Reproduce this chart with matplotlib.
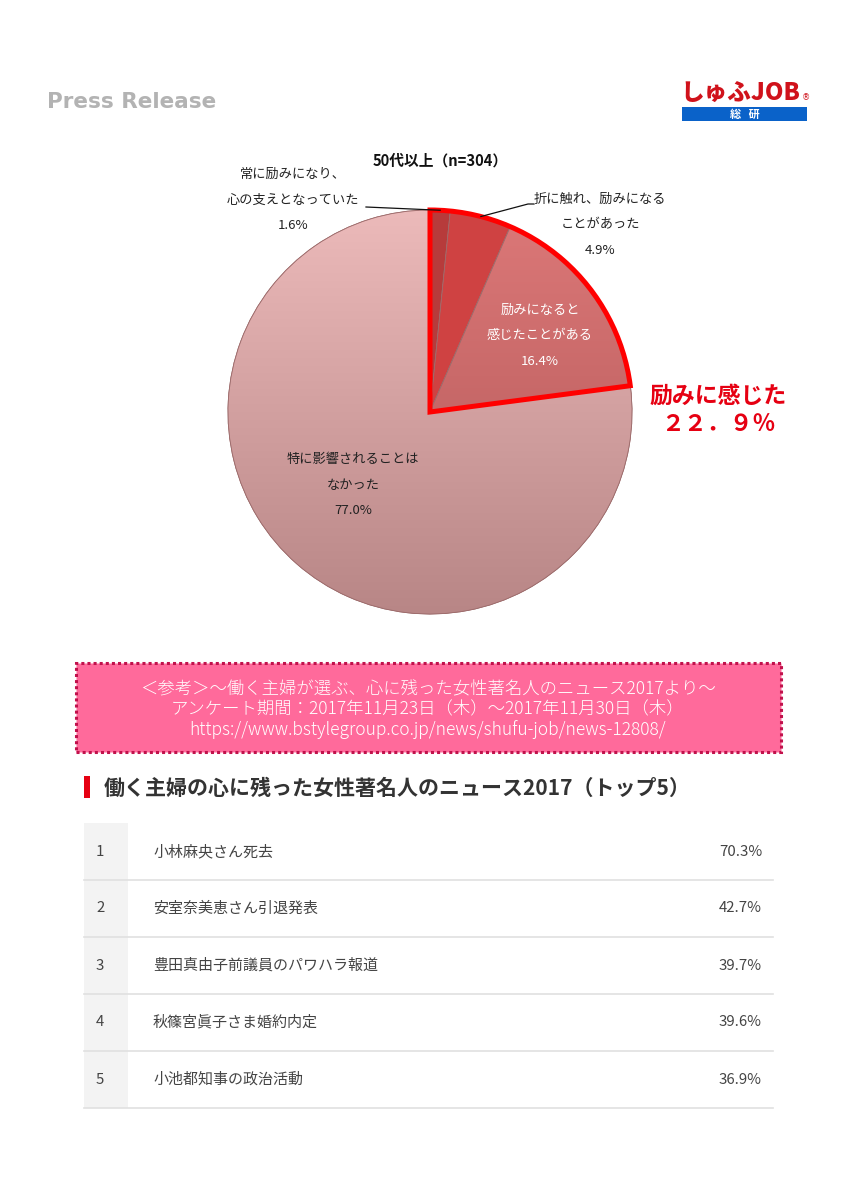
import numpy as np
import matplotlib
matplotlib.use("Agg")
import matplotlib.pyplot as plt
from matplotlib.patches import Wedge, Rectangle
from matplotlib.colors import LinearSegmentedColormap

plt.rcParams['font.family'] = ['Noto Sans CJK JP', 'DejaVu Sans']

# ---------------- data ----------------
pie_title = "50代以上（n=304）"
pie_labels = ["常に励みになり、\n心の支えとなっていた",
              "折に触れ、励みになる\nことがあった",
              "励みになると\n感じたことがある",
              "特に影響されることは\nなかった"]
pie_values = [1.6, 4.9, 16.4, 77.0]
highlight_text = "励みに感じた\n２２．９％"

ref_lines = ["＜参考＞～働く主婦が選ぶ、心に残った女性著名人のニュース2017より～",
             "アンケート期間：2017年11月23日（木）～2017年11月30日（木）",
             "https://www.bstylegroup.co.jp/news/shufu-job/news-12808/"]
table_title = "働く主婦の心に残った女性著名人のニュース2017（トップ5）"
ranks = ["1", "2", "3", "4", "5"]
news = ["小林麻央さん死去", "安室奈美恵さん引退発表", "豊田真由子前議員のパワハラ報道",
        "秋篠宮眞子さま婚約内定", "小池都知事の政治活動"]
news_pct = [70.3, 42.7, 39.7, 39.6, 36.9]

# ---------------- figure ----------------
W, H = 851, 1199
fig = plt.figure(figsize=(W / 100, H / 100), dpi=100)
ax = fig.add_axes([0, 0, 1, 1])
ax.set_xlim(0, W)
ax.set_ylim(0, H)
ax.axis('off')


def Y(py):
    return H - py


# header
ax.text(47, Y(102), "Press Release", fontsize=15.5, fontweight='bold', color='#b3b3b3',
        family=['DejaVu Sans'], va='center', ha='left')
ax.text(680, Y(94), "しゅふJOB", fontsize=17, fontweight='black', color='#d0121b',
        va='center', ha='left')
ax.text(802, Y(98), "®", fontsize=6, color='#d0121b', va='center', ha='left',
        family=['DejaVu Sans'])
ax.add_patch(Rectangle((682, Y(121)), 125, 14, facecolor='#0a62c9', edgecolor='none'))
ax.text(745, Y(114), "総   研", fontsize=8, color='white', fontweight='bold',
        va='center', ha='center')

# ---------------- pie ----------------
cx, cy, R = 430, Y(412), 202
wedges, _ = ax.pie(pie_values, startangle=90, counterclock=False, radius=R,
                   center=(cx, cy), normalize=True,
                   colors=['#b73b3b', '#cf4242', '#d46e6e', '#dcaaaa'],
                   wedgeprops=dict(edgecolor='#9c6b6b', linewidth=0.6))

grads = [None, None, ('#dc7878', '#b05656'), ('#ecbaba', '#b88686')]
for w, g in zip(wedges, grads):
    if g is None:
        continue
    cmap = LinearSegmentedColormap.from_list('g', [g[0], g[1]])
    grad = np.linspace(0, 1, 256).reshape(-1, 1)
    im = ax.imshow(grad, cmap=cmap, extent=(cx - R, cx + R, cy - R, cy + R),
                   origin='upper', aspect='auto', zorder=w.get_zorder() + 0.01)
    im.set_clip_path(w)
    outline = Wedge((cx, cy), R, w.theta1, w.theta2, facecolor='none',
                    edgecolor='#9c6b6b', linewidth=0.6, zorder=w.get_zorder() + 0.02)
    ax.add_patch(outline)

# red outline around the "encouraged" group (first three slices)
total = sum(pie_values)
grp = sum(pie_values[:3]) / total * 360
ax.add_patch(Wedge((cx, cy), R, 90 - grp, 90, facecolor='none', edgecolor='#ff0000',
                   linewidth=3.6, joinstyle='miter', zorder=10))

ax.text(440, Y(161), pie_title, fontsize=10.6, fontweight='bold', color='#111111',
        ha='center', va='center')

lab_fs = 9.5
ls = 2.25
# outside labels
ax.text(293, Y(200), pie_labels[0] + "\n" + f"{pie_values[0]:.1f}%", fontsize=lab_fs,
        ha='center', va='center', color='#222222', linespacing=ls)
ax.text(600, Y(225), pie_labels[1] + "\n" + f"{pie_values[1]:.1f}%", fontsize=lab_fs,
        ha='center', va='center', color='#222222', linespacing=ls)
# inside labels
ax.text(540, Y(336), pie_labels[2] + "\n" + f"{pie_values[2]:.1f}%", fontsize=lab_fs,
        ha='center', va='center', color='white', linespacing=ls, zorder=12)
ax.text(353, Y(485), pie_labels[3] + "\n" + f"{pie_values[3]:.1f}%", fontsize=lab_fs,
        ha='center', va='center', color='#222222', linespacing=ls, zorder=12)

# leader lines to the mid-angle of the two small slices
cum = 0.0
mids = []
for v in pie_values:
    mids.append(np.deg2rad(90 - (cum + v / 2) / total * 360))
    cum += v
p0 = (cx + R * np.cos(mids[0]), cy + R * np.sin(mids[0]))
ax.plot([366, p0[0]], [Y(207), p0[1]], color='#111111', lw=0.9, zorder=11)
p1 = (cx + R * np.cos(mids[1]), cy + R * np.sin(mids[1]))
ax.plot([534, 528, p1[0]], [Y(204), Y(204), p1[1]], color='#111111', lw=0.9, zorder=11)

ax.text(718, Y(410), highlight_text, fontsize=16.5, fontweight='bold', color='#e60012',
        ha='center', va='center', multialignment='center', linespacing=1.3)

# ---------------- reference box ----------------
ax.add_patch(Rectangle((76, Y(752)), 705, 89, facecolor='#ff6a9b', edgecolor='#c2114c',
                       linewidth=2.2, linestyle=(0, (1, 1))))
for i, line in enumerate(ref_lines):
    ax.text(428, Y(689 + i * 20.5), line, fontsize=12.5, color='white', ha='center',
            va='center', fontweight='light')

# ---------------- table ----------------
ax.add_patch(Rectangle((84, Y(798)), 6, 22, facecolor='#e60012', edgecolor='none'))
ax.text(104, Y(788), table_title, fontsize=15.1, fontweight='bold', color='#333333',
        ha='left', va='center')

top, rh = 823, 57
ax.add_patch(Rectangle((84, Y(top + rh * len(ranks))), 44, rh * len(ranks),
                       facecolor='#f3f3f3', edgecolor='none'))
for i, (r, n, p) in enumerate(zip(ranks, news, news_pct)):
    yc = Y(top + rh * i + rh / 2)
    ax.text(96, yc, r, fontsize=10.8, color='#444444', ha='left', va='center')
    ax.text(153, yc, n, fontsize=10.8, color='#444444', ha='left', va='center')
    ax.text(762, yc, f"{p:.1f}%", fontsize=10.8, color='#444444', ha='right', va='center')
    ax.plot([84, 773], [Y(top + rh * (i + 1))] * 2, color='#e0e0e0', lw=1.2)

ax.set_xlim(0, W)
ax.set_ylim(0, H)
fig.savefig("out.png", dpi=100)
